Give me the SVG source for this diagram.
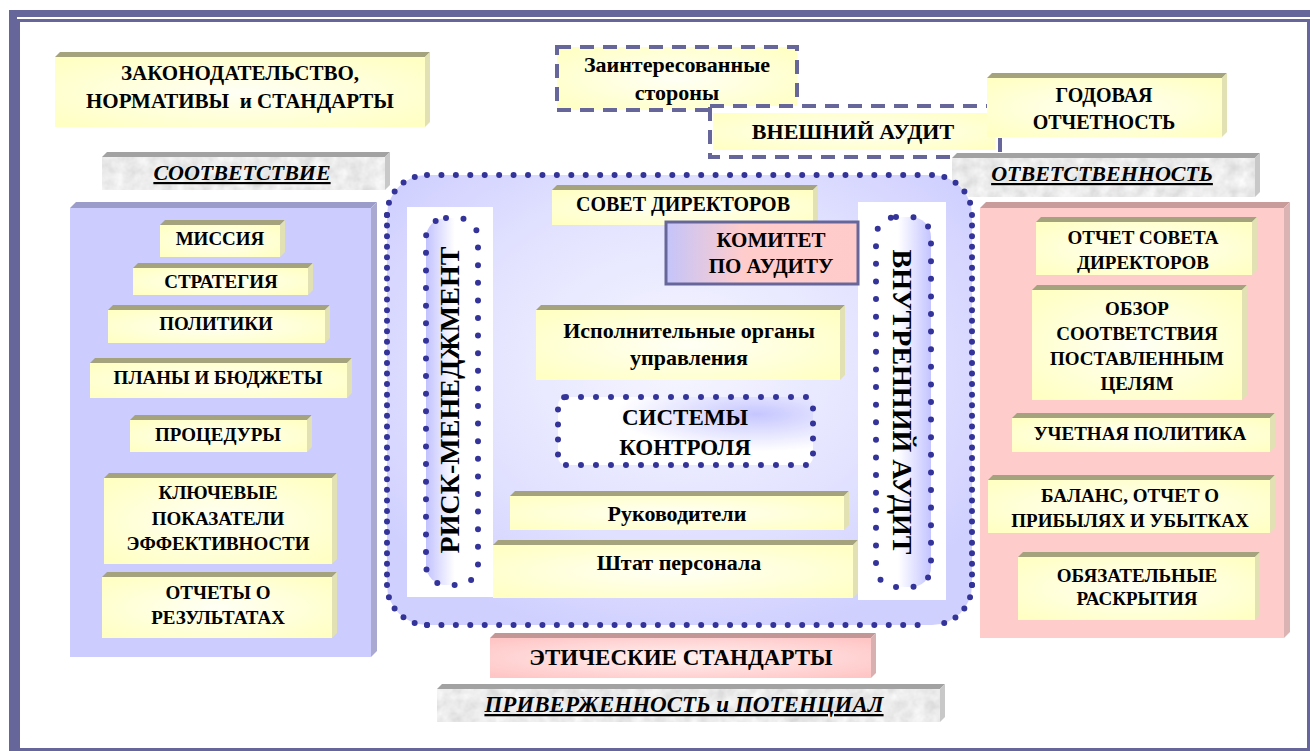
<svg xmlns="http://www.w3.org/2000/svg" width="1310" height="751" viewBox="0 0 1310 751" font-family="Liberation Serif, Times New Roman, serif">
<defs>
<radialGradient id="gy" cx="50%" cy="50%" r="65%"><stop offset="0" stop-color="#FFFFF6"/><stop offset="1" stop-color="#FFFFC4"/></radialGradient>
<radialGradient id="gp" cx="50%" cy="50%" r="65%"><stop offset="0" stop-color="#FFF2F2"/><stop offset="1" stop-color="#FFC6C6"/></radialGradient>
<linearGradient id="gk" x1="0" y1="0" x2="1" y2="0"><stop offset="0" stop-color="#C4C4FA"/><stop offset="0.4" stop-color="#FFCCCC"/><stop offset="1" stop-color="#FFCACA"/></linearGradient>
<radialGradient id="gc" cx="50%" cy="42%" r="62%"><stop offset="0" stop-color="#F6F6FF"/><stop offset="0.6" stop-color="#E2E2FF"/><stop offset="1" stop-color="#D0D0FF"/></radialGradient>
<linearGradient id="grisk" x1="0" y1="0" x2="1" y2="0"><stop offset="0" stop-color="#C2C2FF"/><stop offset="0.55" stop-color="#FFFFFF"/></linearGradient>
<linearGradient id="gvn" x1="0" y1="0" x2="1" y2="0"><stop offset="0.4" stop-color="#FFFFFF"/><stop offset="1" stop-color="#C4C4FF"/></linearGradient>
<radialGradient id="gsys" cx="78%" cy="25%" r="55%"><stop offset="0" stop-color="#C6C6FF"/><stop offset="1" stop-color="#FFFFFF"/></radialGradient>
<filter id="marble" x="0" y="0" width="100%" height="100%">
<feTurbulence type="fractalNoise" baseFrequency="0.08" numOctaves="3" seed="4"/>
<feColorMatrix type="matrix" values="0.35 0 0 0 0.66  0.35 0 0 0 0.66  0.35 0 0 0 0.66  0 0 0 0 1"/>
<feComposite operator="in" in2="SourceGraphic"/>
</filter>
<style>
.t{font-weight:bold;font-size:19px;fill:#000;text-anchor:middle}
.s20{font-size:20px} .s21{font-size:21px} .s22{font-size:22px} .s23{font-size:23px} .s28{font-size:28px}
.h{font-size:22px;font-style:italic;text-decoration:underline}
.yf{fill:url(#gy)} .yt{fill:#A4A37E} .yr{fill:#E2E1B4}
.gf{fill:#E4E4E4} .gt{fill:#A2A2A2} .gr{fill:#C8C8C8}
.pf{fill:url(#gp)} .pt{fill:#C49797} .pr{fill:#D9B0B0}
.dot{fill:none;stroke:#333399;stroke-width:6;stroke-linecap:round}
.dash{stroke:#66669A;stroke-width:4;stroke-dasharray:14 9}
.frame{fill:#66669A}
</style>
</defs>

<g id="frame">
<rect class="frame" x="9" y="10" width="8" height="741"/>
<rect class="frame" x="9" y="10" width="1301" height="7"/>
<rect x="18.5" y="20.5" width="1290" height="729" fill="#FFFFFF" stroke="#66669A" stroke-width="3"/>
</g>

<g id="law">
<rect class="yf" x="55" y="57" width="370" height="70"/>
<path class="yt" d="M55,57 L60,52 H430 L425,57Z"/>
<path class="yr" d="M425,57 L430,52 V122 L425,127Z"/>
<text class="t s21" x="240" y="80">ЗАКОНОДАТЕЛЬСТВО,</text>
<text class="t s21" x="240" y="108" xml:space="preserve">НОРМАТИВЫ  и СТАНДАРТЫ</text>
</g>

<g id="compliance">
<rect class="gf" x="102" y="157" width="283" height="33" filter="url(#marble)"/>
<path class="gt" d="M102,157 L107,152 H390 L385,157Z"/>
<path class="gr" d="M385,157 L390,152 V185 L385,190Z"/>
<text class="t h" x="242" y="180">СООТВЕТСТВИЕ</text>
</g>

<g id="stakeholders">
<rect x="557" y="47" width="240" height="63" fill="url(#gy)"/>
<rect class="dash" x="557" y="47" width="240" height="63" fill="none"/>
<text class="t s22" x="677" y="72">Заинтересованные</text>
<text class="t s22" x="677" y="100">стороны</text>
</g>

<g id="external-audit">
<rect class="dash" x="710" y="106" width="290" height="51" fill="#FFFFFF"/>
<rect x="713" y="113" width="282" height="37" fill="url(#gy)"/>
<text class="t s22" x="853" y="139">ВНЕШНИЙ АУДИТ</text>
</g>

<g id="annual">
<rect class="yf" x="987" y="78" width="235" height="59"/>
<path class="yt" d="M987,78 L992,73 H1227 L1222,78Z"/>
<path class="yr" d="M1222,78 L1227,73 V132 L1222,137Z"/>
<text class="t s20" x="1104" y="102">ГОДОВАЯ</text>
<text class="t s20" x="1104" y="129">ОТЧЕТНОСТЬ</text>
</g>

<g id="accountability">
<rect class="gf" x="952" y="158" width="303" height="39" filter="url(#marble)"/>
<path class="gt" d="M952,158 L957,153 H1260 L1255,158Z"/>
<path class="gr" d="M1255,158 L1260,153 V192 L1255,197Z"/>
<text class="t h" x="1102" y="181">ОТВЕТСТВЕННОСТЬ</text>
</g>

<g id="left-panel">
<rect x="70" y="208" width="301" height="449" fill="#CCCCFF"/>
<path d="M70,208 L76,202 H377 L371,208Z" fill="#9C9CCB"/>
<path d="M371,208 L377,202 V651 L371,657Z" fill="#A9A9D2"/>
</g>

<g id="mission">
<rect class="yf" x="160" y="225" width="120" height="32"/>
<path class="yt" d="M160,225 L165,220 H285 L280,225Z"/>
<path class="yr" d="M280,225 L285,220 V252 L280,257Z"/>
<text class="t" x="220" y="245">МИССИЯ</text>
</g>
<g id="strategy">
<rect class="yf" x="133" y="268" width="175" height="27"/>
<path class="yt" d="M133,268 L138,263 H313 L308,268Z"/>
<path class="yr" d="M308,268 L313,263 V290 L308,295Z"/>
<text class="t" x="221" y="288">СТРАТЕГИЯ</text>
</g>
<g id="policies">
<rect class="yf" x="108" y="310" width="217" height="33"/>
<path class="yt" d="M108,310 L113,305 H330 L325,310Z"/>
<path class="yr" d="M325,310 L330,305 V338 L325,343Z"/>
<text class="t" x="216" y="330">ПОЛИТИКИ</text>
</g>
<g id="plans">
<rect class="yf" x="90" y="363" width="257" height="35"/>
<path class="yt" d="M90,363 L95,358 H352 L347,363Z"/>
<path class="yr" d="M347,363 L352,358 V393 L347,398Z"/>
<text class="t" x="218" y="384">ПЛАНЫ И БЮДЖЕТЫ</text>
</g>
<g id="procedures">
<rect class="yf" x="130" y="420" width="177" height="32"/>
<path class="yt" d="M130,420 L135,415 H312 L307,420Z"/>
<path class="yr" d="M307,420 L312,415 V447 L307,452Z"/>
<text class="t" x="218" y="441">ПРОЦЕДУРЫ</text>
</g>
<g id="kpi">
<rect class="yf" x="104" y="478" width="228" height="86"/>
<path class="yt" d="M104,478 L109,473 H337 L332,478Z"/>
<path class="yr" d="M332,478 L337,473 V559 L332,564Z"/>
<text class="t" x="218" y="499">КЛЮЧЕВЫЕ</text>
<text class="t" x="218" y="525">ПОКАЗАТЕЛИ</text>
<text class="t" x="218" y="550">ЭФФЕКТИВНОСТИ</text>
</g>
<g id="reports">
<rect class="yf" x="102" y="577" width="230" height="61"/>
<path class="yt" d="M102,577 L107,572 H337 L332,577Z"/>
<path class="yr" d="M332,577 L337,572 V633 L332,638Z"/>
<text class="t" x="218" y="599">ОТЧЕТЫ О</text>
<text class="t" x="218" y="624">РЕЗУЛЬТАТАХ</text>
</g>

<g id="right-panel">
<rect x="980" y="208" width="304" height="430" fill="#FFCCCC"/>
<path d="M980,208 L986,202 H1290 L1284,208Z" fill="#C99C9C"/>
<path d="M1284,208 L1290,202 V632 L1284,638Z" fill="#DBB3B3"/>
</g>
<g id="board-report">
<rect class="yf" x="1036" y="222" width="216" height="53"/>
<path class="yt" d="M1036,222 L1041,217 H1257 L1252,222Z"/>
<path class="yr" d="M1252,222 L1257,217 V270 L1252,275Z"/>
<text class="t" x="1143" y="244">ОТЧЕТ СОВЕТА</text>
<text class="t" x="1143" y="269">ДИРЕКТОРОВ</text>
</g>
<g id="review">
<rect class="yf" x="1032" y="290" width="210" height="110"/>
<path class="yt" d="M1032,290 L1037,285 H1247 L1242,290Z"/>
<path class="yr" d="M1242,290 L1247,285 V395 L1242,400Z"/>
<text class="t" x="1137" y="315">ОБЗОР</text>
<text class="t" x="1137" y="340">СООТВЕТСТВИЯ</text>
<text class="t" x="1137" y="365">ПОСТАВЛЕННЫМ</text>
<text class="t" x="1137" y="390">ЦЕЛЯМ</text>
</g>
<g id="accounting-policy">
<rect class="yf" x="1012" y="418" width="258" height="34"/>
<path class="yt" d="M1012,418 L1017,413 H1275 L1270,418Z"/>
<path class="yr" d="M1270,418 L1275,413 V447 L1270,452Z"/>
<text class="t" x="1140" y="440">УЧЕТНАЯ ПОЛИТИКА</text>
</g>
<g id="balance">
<rect class="yf" x="988" y="480" width="282" height="53"/>
<path class="yt" d="M988,480 L993,475 H1275 L1270,480Z"/>
<path class="yr" d="M1270,480 L1275,475 V528 L1270,533Z"/>
<text class="t" x="1130" y="502">БАЛАНС, ОТЧЕТ О</text>
<text class="t" x="1130" y="527">ПРИБЫЛЯХ И УБЫТКАХ</text>
</g>
<g id="disclosures">
<rect class="yf" x="1018" y="557" width="237" height="63"/>
<path class="yt" d="M1018,557 L1023,552 H1260 L1255,557Z"/>
<path class="yr" d="M1255,557 L1260,552 V615 L1255,620Z"/>
<text class="t" x="1137" y="582">ОБЯЗАТЕЛЬНЫЕ</text>
<text class="t" x="1137" y="605">РАСКРЫТИЯ</text>
</g>

<g id="governance">
<rect x="387" y="175" width="585" height="450" rx="40" fill="url(#gc)"/>
<path class="dot" stroke-dasharray="0 14.43" d="M427,175 H932 M427,625 H932"/>
<path class="dot" stroke-dasharray="0 10.57" d="M387,215 V585 M972,215 V585"/>
<path class="dot" stroke-dasharray="0 12.57" d="M387,215 A40,40 0 0 1 427,175 M932,175 A40,40 0 0 1 972,215 M972,585 A40,40 0 0 1 932,625 M427,625 A40,40 0 0 1 387,585"/>
</g>

<g id="risk">
<rect x="407" y="207" width="86" height="390" fill="#FFFFFF"/>
<rect x="426" y="218" width="52" height="367" rx="20" fill="url(#grisk)"/>
<rect class="dot" x="426" y="218" width="52" height="367" rx="20" stroke-dasharray="0 17.6"/>
<text class="t s28" transform="translate(459,400) rotate(-90)">РИСК-МЕНЕДЖМЕНТ</text>
</g>

<g id="internal-audit">
<rect x="858" y="202" width="88" height="398" fill="#FFFFFF"/>
<rect x="876" y="217" width="55" height="370" rx="20" fill="url(#gvn)"/>
<rect class="dot" x="876" y="217" width="55" height="370" rx="20" stroke-dasharray="0 17.6"/>
<text class="t s28" transform="translate(893,402) rotate(90)">ВНУТРЕННИЙ АУДИТ</text>
</g>

<g id="board">
<rect class="yf" x="552" y="190" width="261" height="35"/>
<path class="yt" d="M552,190 L557,185 H818 L813,190Z"/>
<path class="yr" d="M813,190 L818,185 V220 L813,225Z"/>
<text class="t s20" x="683" y="211">СОВЕТ ДИРЕКТОРОВ</text>
</g>

<g id="audit-committee">
<rect x="666" y="222" width="192" height="62" fill="url(#gk)" stroke="#66669A" stroke-width="3"/>
<text class="t s21" x="771" y="247">КОМИТЕТ</text>
<text class="t s21" x="771" y="273">ПО АУДИТУ</text>
</g>

<g id="executive">
<rect class="yf" x="536" y="310" width="304" height="70"/>
<path class="yt" d="M536,310 L541,305 H845 L840,310Z"/>
<path class="yr" d="M840,310 L845,305 V375 L840,380Z"/>
<text class="t s22" x="689" y="338">Исполнительные органы</text>
<text class="t s22" x="689" y="365">управления</text>
</g>

<g id="control-systems">
<rect x="558" y="397" width="255" height="68" rx="8" fill="url(#gsys)"/>
<rect class="dot" x="558" y="397" width="255" height="68" rx="8" stroke-dasharray="0 15"/>
<text class="t s23" x="685" y="425">СИСТЕМЫ</text>
<text class="t s23" x="685" y="455">КОНТРОЛЯ</text>
</g>

<g id="managers">
<rect class="yf" x="510" y="496" width="334" height="34"/>
<path class="yt" d="M510,496 L515,491 H849 L844,496Z"/>
<path class="yr" d="M844,496 L849,491 V525 L844,530Z"/>
<text class="t s22" x="677" y="521">Руководители</text>
</g>

<g id="staff">
<rect class="yf" x="493" y="545" width="360" height="53"/>
<path class="yt" d="M493,545 L498,540 H858 L853,545Z"/>
<path class="yr" d="M853,545 L858,540 V593 L853,598Z"/>
<text class="t s22" x="679" y="570">Штат персонала</text>
</g>

<g id="ethics">
<rect class="pf" x="490" y="638" width="381" height="40"/>
<path class="pt" d="M490,638 L495,633 H876 L871,638Z"/>
<path class="pr" d="M871,638 L876,633 V673 L871,678Z"/>
<text class="t s23" x="681" y="665">ЭТИЧЕСКИЕ СТАНДАРТЫ</text>
</g>

<g id="commitment">
<rect class="gf" x="437" y="689" width="503" height="33" filter="url(#marble)"/>
<path class="gt" d="M437,689 L442,684 H945 L940,689Z"/>
<path class="gr" d="M940,689 L945,684 V717 L940,722Z"/>
<text class="t h" x="684" y="712" style="font-size:23px">ПРИВЕРЖЕННОСТЬ и ПОТЕНЦИАЛ</text>
</g>

<g id="connectors"></g>
</svg>
